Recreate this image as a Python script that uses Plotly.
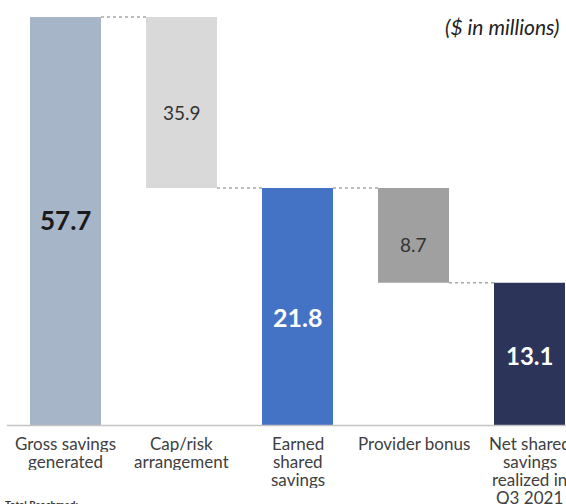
import plotly.graph_objects as go

# ---- data -------------------------------------------------------------
categories = [
    "Gross savings<br>generated",
    "Cap/risk<br>arrangement",
    "Earned<br>shared<br>savings",
    "Provider bonus",
    "Net shared<br>savings<br>realized in<br>Q3 2021",
]
gross_savings = 57.7
cap_risk = 35.9
earned_savings = 21.8
provider_bonus = 8.7
net_savings = 13.1

values = [gross_savings, cap_risk, earned_savings, provider_bonus, net_savings]
bases = [0, gross_savings - cap_risk, 0, earned_savings - provider_bonus, 0]

# ---- styling ----------------------------------------------------------
colors = ["#a6b5c8", "#d9d9d9", "#4472c4", "#a0a0a0", "#2d3459"]
FONT = "Lato, 'Open Sans', sans-serif"

W, H = 566, 504
centers = [65.5 + 116 * i for i in range(5)]
BAR_W = 71

# broken value scale: lower segment up to the earned-savings level,
# compressed upper segment above it
Y0_PX, BREAK_PX, TOP_PX = 425.5, 188.0, 17.0
low_scale = (Y0_PX - BREAK_PX) / earned_savings          # px per unit
up_scale = (BREAK_PX - TOP_PX) / (gross_savings - earned_savings)

MT, MB = 12, 75
plot_top, plot_bot = MT, H - MB
plot_h = plot_bot - plot_top


def frac(px):
    return (plot_bot - px) / plot_h


low_top_px = BREAK_PX - 4
up_bot_px = BREAK_PX + 4
low_range = [(Y0_PX - plot_bot) / low_scale, (Y0_PX - low_top_px) / low_scale]
up_range = [earned_savings - (up_bot_px - BREAK_PX) / up_scale,
            gross_savings + (TOP_PX - plot_top) / up_scale]

fig = go.Figure()
for yax in ["y", "y2"]:
    fig.add_trace(go.Bar(
        x=centers, y=values, base=bases, width=BAR_W,
        marker=dict(color=colors, line=dict(width=0)),
        yaxis=yax, xaxis="x", hoverinfo="skip", showlegend=False,
    ))

# dashed connectors between consecutive bars
shapes = []
conn_levels = [gross_savings, bases[1], earned_savings, bases[3]]
conn_axes = ["y2", "y", "y", "y"]
for i, (lvl, ax) in enumerate(zip(conn_levels, conn_axes)):
    shapes.append(dict(
        type="line", xref="x", yref=ax,
        x0=centers[i] + BAR_W / 2, x1=centers[i + 1] - BAR_W / 2,
        y0=lvl, y1=lvl,
        line=dict(color="#a8a8a8", width=1.5, dash="3px,3px"),
    ))
# baseline
shapes.append(dict(type="line", xref="x", yref="y", x0=7, x1=W, y0=0, y1=0,
                   line=dict(color="#c4c4c4", width=1.5)))

# value labels
label_y = [
    (18.9, "y"),
    (bases[1] + 0.44 * cap_risk, "y2"),
    (0.457 * earned_savings, "y"),
    (bases[3] + 0.40 * provider_bonus, "y"),
    (0.494 * net_savings, "y"),
]
label_fonts = [
    dict(size=26, color="#1a1a1a", weight="bold"),
    dict(size=19, color="#333333"),
    dict(size=25, color="#ffffff", weight="bold"),
    dict(size=19, color="#333333"),
    dict(size=24, color="#ffffff", weight="bold"),
]
annotations = []
for i, v in enumerate(values):
    yv, ax = label_y[i]
    f = dict(family=FONT, **label_fonts[i])
    annotations.append(dict(
        x=centers[i], y=yv, xref="x", yref=ax, text=f"{v:.1f}",
        showarrow=False, font=f, xanchor="center", yanchor="middle",
    ))

# category labels under the bars, tightly spaced lines
FIRST_LINE_PX, LINE_STEP = 443, 18
for i, cat in enumerate(categories):
    for k, line in enumerate(cat.split("<br>")):
        annotations.append(dict(
            x=centers[i], xref="x", y=0, yref="paper",
            yshift=-(FIRST_LINE_PX + LINE_STEP * k - plot_bot),
            text=line, showarrow=False, xanchor="center", yanchor="middle",
            height=LINE_STEP,
            font=dict(family=FONT, size=17, color="#404040"),
        ))

annotations.append(dict(
    x=562, xref="x", y=1, yref="paper", yshift=-(26 - MT), text="($ in millions)",
    showarrow=False, xanchor="right", yanchor="middle",
    font=dict(family=FONT, size=21, color="#222222", style="italic"),
))
annotations.append(dict(
    x=3, xref="x", y=0, yref="paper", yshift=-(496 - plot_bot), text="Total Reachmed:",
    showarrow=False, xanchor="left", yanchor="top",
    font=dict(family=FONT, size=10, color="#333333", weight="bold"),
))

fig.update_layout(
    width=W, height=H,
    margin=dict(l=0, r=0, t=MT, b=MB),
    paper_bgcolor="white", plot_bgcolor="rgba(0,0,0,0)",
    barmode="overlay",
    xaxis=dict(range=[0, W], showticklabels=False,
               showgrid=False, zeroline=False, showline=False, ticks="",
               anchor="y", fixedrange=True),
    yaxis=dict(domain=[0, frac(low_top_px)], range=low_range, visible=False,
               fixedrange=True),
    yaxis2=dict(domain=[frac(up_bot_px), 1], range=up_range, visible=False,
                anchor="x", fixedrange=True),
    shapes=shapes,
    annotations=annotations,
)

fig.write_html("out.html")
